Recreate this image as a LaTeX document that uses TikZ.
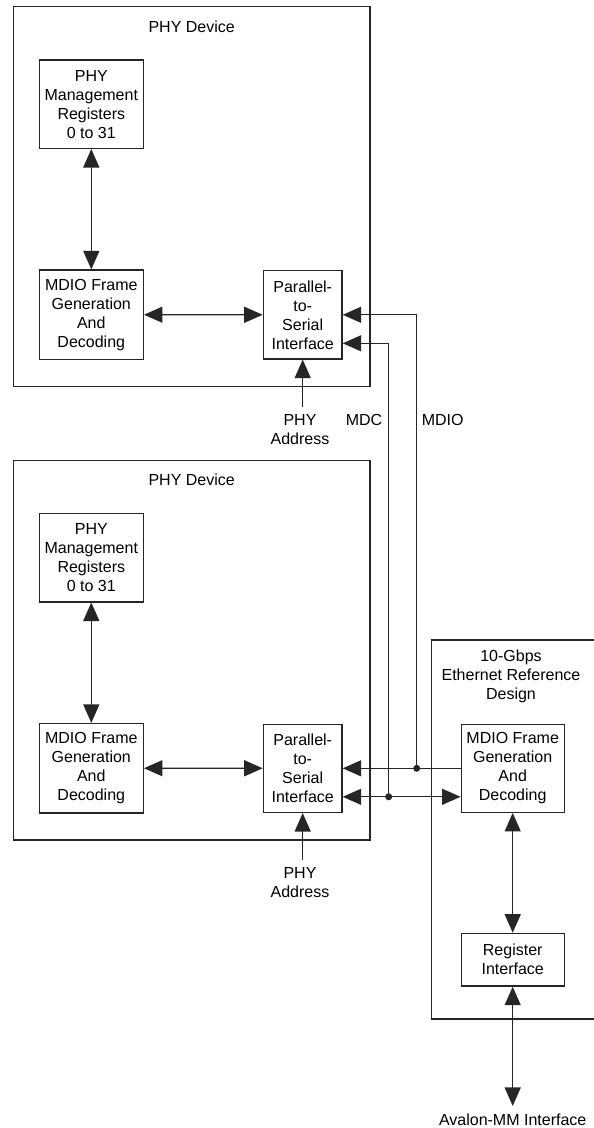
\documentclass[tikz,border=0pt]{standalone}
\usepackage{fontspec}
\setmainfont{Liberation Sans}
\usetikzlibrary{arrows.meta,positioning}
\tikzset{
  Head/.tip={Triangle[length=18.5pt,width=16pt]},
  blk/.style={draw=black!85, line width=1.3pt, inner sep=0pt, align=center},
  txt/.style={inner sep=0pt, align=center},
  wire/.style={draw=black!85, line width=1.3pt},
}

\begin{document}
\begin{tikzpicture}[x=1pt,y=-1pt,font=\fontsize{16}{19}\selectfont]
\useasboundingbox (0,0) rectangle (594,1128);
% the two PHY devices
\foreach \id/\dy in {A/0,B/453.5}{
  \node[blk, minimum width=356.7, minimum height=379.8] (dev\id) at (191.7,196.6+\dy) {};
  \node[txt] (ttl\id) at (191.7,26.7+\dy) {PHY Device};
  \node[blk, minimum width=104, minimum height=88.3] (reg\id) at (91.3,104.2+\dy) {PHY\\Management\\Registers\\0 to 31};
  \node[blk, minimum width=104, minimum height=89.3] (mdio\id) at (91.3,314.7+\dy) {MDIO Frame\\Generation\\And\\Decoding};
  \node[blk, minimum width=78.7, minimum height=88.3] (pts\id) at (302.7,314.8+\dy) {Parallel-\\to-\\Serial\\Interface};
  \node[txt] (adr\id) at (300,429.4+\dy) {PHY\\Address};
  \draw[wire,Head-Head] (reg\id) -- (mdio\id);
  \draw[wire,Head-Head] (mdio\id) -- (pts\id);
  \draw[wire,-Head] ([yshift=7.5]pts\id.south |- adr\id.north) -- (pts\id.south);
}
\node[txt] (mdc) at (364,420) {MDC};
\node[txt] (mdiol) at (442.7,420) {MDIO};

% reference design
\draw[wire] (594,640) -- (431.7,640) -- (431.7,1019) -- (594,1019);
\node[txt] (ttlC) at (511,676) {10-Gbps\\Ethernet Reference\\Design};
\node[blk, minimum width=103, minimum height=88] (mdioC) at (512.7,768.3) {MDIO Frame\\Generation\\And\\Decoding};
\node[blk, minimum width=103, minimum height=52.7] (regC) at (512.7,959.7) {Register\\Interface};
\node[txt] (avl) at (512.7,1120) {Avalon-MM Interface};
\draw[wire,Head-Head] (mdioC) -- (regC);
\draw[wire,Head-Head] (regC.south) -- ([yshift=8]avl.north);

% MDIO / MDC bus
\coordinate (jMdio) at (416.7,768.3);
\coordinate (jMdc) at (388.7,796.8);
\draw[wire,-Head] (mdioC.west) -- (ptsB.east);
\draw[wire,Head-Head] (ptsB.east |- jMdc) -- (mdioC.west |- jMdc);
\draw[wire,-Head] (jMdio) |- (ptsA.east);
\draw[wire,-Head] (jMdc) |- ([yshift=-28.5]ptsA.east);
\fill[black!85] (jMdio) circle (3.5);
\fill[black!85] (jMdc) circle (3.5);
\end{tikzpicture}
\end{document}
